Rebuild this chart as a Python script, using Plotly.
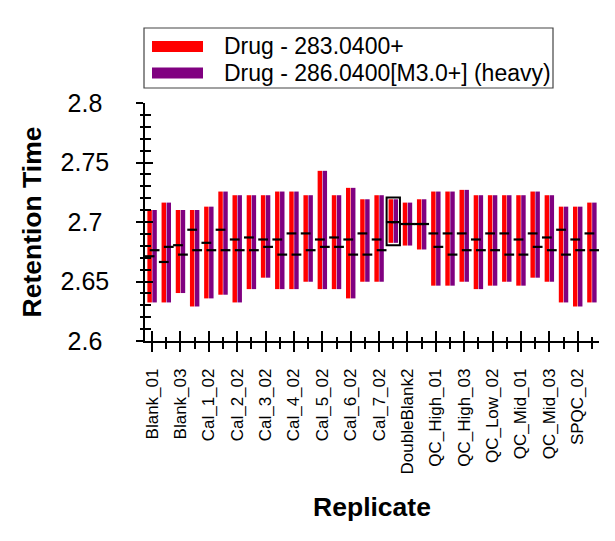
import plotly.graph_objects as go

# ---------------- data ----------------
replicates = ["Blank_01", "Blank_02", "Blank_03", "Cal_1_01", "Cal_1_02", "Cal_2_01",
              "Cal_2_02", "Cal_3_01", "Cal_3_02", "Cal_4_01", "Cal_4_02", "Cal_5_01",
              "Cal_5_02", "Cal_6_01", "Cal_6_02", "Cal_7_01", "Cal_7_02", "DoubleBlank1",
              "DoubleBlank2", "DoubleBlank3", "QC_High_01", "QC_High_02", "QC_High_03",
              "QC_Low_01", "QC_Low_02", "QC_Low_03", "QC_Mid_01", "QC_Mid_02", "QC_Mid_03",
              "SPQC_01", "SPQC_02", "SPQC_03"]

# integration boundaries (shared by light and heavy)
peak_start = [2.6324, 2.6324, 2.6403, 2.6290, 2.6358, 2.6389, 2.6324, 2.6436, 2.6532, 2.6436,
              2.6436, 2.6498, 2.6436, 2.6436, 2.6358, 2.6498, 2.6498, 2.6825, 2.6802, 2.6769,
              2.6465, 2.6465, 2.6498, 2.6436, 2.6465, 2.6498, 2.6465, 2.6532, 2.6498, 2.6324,
              2.6290, 2.6324]
peak_end = [2.7101, 2.7163, 2.7101, 2.7101, 2.7129, 2.7256, 2.7225, 2.7225, 2.7225, 2.7256,
            2.7256, 2.7225, 2.7430, 2.7225, 2.7287, 2.7191, 2.7225, 2.7191, 2.7163, 2.7191,
            2.7256, 2.7256, 2.7270, 2.7225, 2.7225, 2.7225, 2.7225, 2.7256, 2.7225, 2.7129,
            2.7129, 2.7163]

light_apex = [2.6712, 2.6664, 2.6805, 2.6935, 2.6825, 2.6935, 2.6853, 2.6870, 2.6853, 2.6853,
              2.6904, 2.6904, 2.6853, 2.6870, 2.6853, 2.6904, 2.6853, 2.6999, 2.6983, 2.6983,
              2.6904, 2.6904, 2.6904, 2.6853, 2.6904, 2.6904, 2.6853, 2.6904, 2.6870, 2.6935,
              2.6853, 2.6904]
heavy_apex = [2.6763, 2.6791, 2.6726, 2.6763, 2.6763, 2.6763, 2.6763, 2.6763, 2.6791, 2.6726,
              2.6726, 2.6763, 2.6791, 2.6791, 2.6726, 2.6726, 2.6763, 2.6999, 2.6983, 2.6983,
              2.6791, 2.6726, 2.6763, 2.6763, 2.6763, 2.6726, 2.6726, 2.6791, 2.6763, 2.6726,
              2.6763, 2.6763]

light_name = "Drug - 283.0400+"
heavy_name = "Drug - 286.0400[M3.0+] (heavy)"
selected_replicate = "DoubleBlank1"

y_tick_vals = [2.6, 2.65, 2.7, 2.75, 2.8]
y_tick_labels = ["2.6", "2.65", "2.7", "2.75", "2.8"]

# ---------------- style ----------------
RED = "#FF0000"
PURPLE = "#800080"
FONT = "Liberation Sans, Arial, sans-serif"

# page geometry (the html body adds an 8px margin)
BODY = 8
W, H = 615 - BODY, 541 - BODY
ML, MR, MT, MB = 137, 16, 95, 200
PX0, PX1 = BODY + ML, BODY + W - MR      # plot area in page pixels
PY0, PY1 = BODY + MT, BODY + H - MB


def px(x):
    return (x - PX0) / (PX1 - PX0)


def py(y):
    return (PY1 - y) / (PY1 - PY0)


idx = list(range(len(replicates)))
heights = [e - s for s, e in zip(peak_start, peak_end)]

fig = go.Figure()
series = [(light_name, RED, "light", light_apex), (heavy_name, PURPLE, "heavy", heavy_apex)]
for name, color, grp, apex in series:
    fig.add_trace(go.Bar(x=idx, y=heights, base=peak_start, marker_color=color,
                         marker_line_width=0, offsetgroup=grp, name=name,
                         showlegend=False))
for name, color, grp, apex in series:
    fig.add_trace(go.Scatter(x=idx, y=apex, mode="markers", offsetgroup=grp,
                             name=name + " apex",
                             marker=dict(symbol="line-ew", size=7,
                                         line=dict(width=2.2, color="black")),
                             showlegend=False, hoverinfo="skip"))
# helper trace for inside-tick overlay axes
fig.add_trace(go.Scatter(x=[None], y=[None], xaxis="x2", yaxis="y2",
                         showlegend=False, hoverinfo="skip"))

# selection box around selected replicate
si = replicates.index(selected_replicate)
fig.add_shape(type="rect", xref="x", yref="y",
              x0=si - 0.47, x1=si + 0.47,
              y0=peak_start[si] - 0.002, y1=peak_end[si] + 0.0015,
              line=dict(color="black", width=2), fillcolor="rgba(0,0,0,0)")

# legend box (drawn like the original's wide swatches)
fig.add_shape(type="rect", xref="paper", yref="paper",
              x0=px(144), x1=px(553), y0=py(88), y1=py(28),
              line=dict(color="#444", width=1.2), fillcolor="white", layer="above")
for k, (name, color, grp, apex) in enumerate(series):
    cy = 46.5 + k * 26.5
    fig.add_shape(type="rect", xref="paper", yref="paper",
                  x0=px(152), x1=px(203), y0=py(cy + 5.5), y1=py(cy - 5.5),
                  line=dict(width=0), fillcolor=color, layer="above")
    fig.add_annotation(xref="paper", yref="paper", x=px(222), y=py(cy),
                       xanchor="left", yanchor="middle", text=name, showarrow=False,
                       font=dict(size=23, family=FONT, color="black"))

pad_labels = [t + "\u00a0" if len(t) == 3 else t for t in y_tick_labels]
xr = [-0.5, len(replicates) - 0.5]

fig.update_layout(
    width=W, height=H,
    margin=dict(l=ML, r=MR, t=MT, b=MB, autoexpand=False),
    paper_bgcolor="white", plot_bgcolor="white",
    font=dict(family=FONT, color="black"),
    barmode="group", bargap=0.3, bargroupgap=0.1, scattermode="group",
    showlegend=False,
    xaxis=dict(range=xr, tickmode="array", tickvals=idx[::2], ticktext=replicates[::2],
               tickangle=-90, tickfont=dict(size=17), ticks="outside", ticklen=9,
               tickwidth=1.5, tickcolor="black", showline=True, linecolor="black",
               linewidth=1.5, showgrid=False, zeroline=False, ticklabelstandoff=10,
               minor=dict(tick0=0, dtick=1, ticks="outside", ticklen=6, tickwidth=1.5,
                          tickcolor="black"),
               title=dict(text="Replicate", font=dict(size=26.5, weight="bold"), standoff=24),
               automargin=False),
    xaxis2=dict(range=xr, overlaying="x", anchor="y", side="bottom", tickmode="array",
                tickvals=idx[::2], ticks="inside", ticklen=10, tickwidth=1.5,
                tickcolor="black", showticklabels=False, showline=False, showgrid=False,
                zeroline=False,
                minor=dict(tick0=0, dtick=1, ticks="inside", ticklen=4, tickwidth=1.5,
                           tickcolor="black")),
    yaxis=dict(range=[2.6, 2.8], tickmode="array", tickvals=y_tick_vals, ticktext=pad_labels,
               tickfont=dict(size=25), ticks="outside", ticklen=7, tickwidth=1.5,
               tickcolor="black", showline=True, linecolor="black", linewidth=1.5,
               showgrid=False, zeroline=False, ticklabelstandoff=22,
               minor=dict(dtick=0.01, tick0=2.6, ticks="outside", ticklen=3, tickwidth=1.5,
                          tickcolor="black"),
               title=dict(text="Retention Time", font=dict(size=26.5, weight="bold"),
                          standoff=11),
               automargin=False),
    yaxis2=dict(range=[2.6, 2.8], overlaying="y", anchor="x", side="left",
                tickmode="array", tickvals=y_tick_vals, ticks="inside", ticklen=8,
                tickwidth=1.5, tickcolor="black", showticklabels=False, showline=False,
                showgrid=False, zeroline=False,
                minor=dict(dtick=0.01, tick0=2.6, ticks="inside", ticklen=6, tickwidth=1.5,
                           tickcolor="black")),
)

fig.write_html("out.html")
